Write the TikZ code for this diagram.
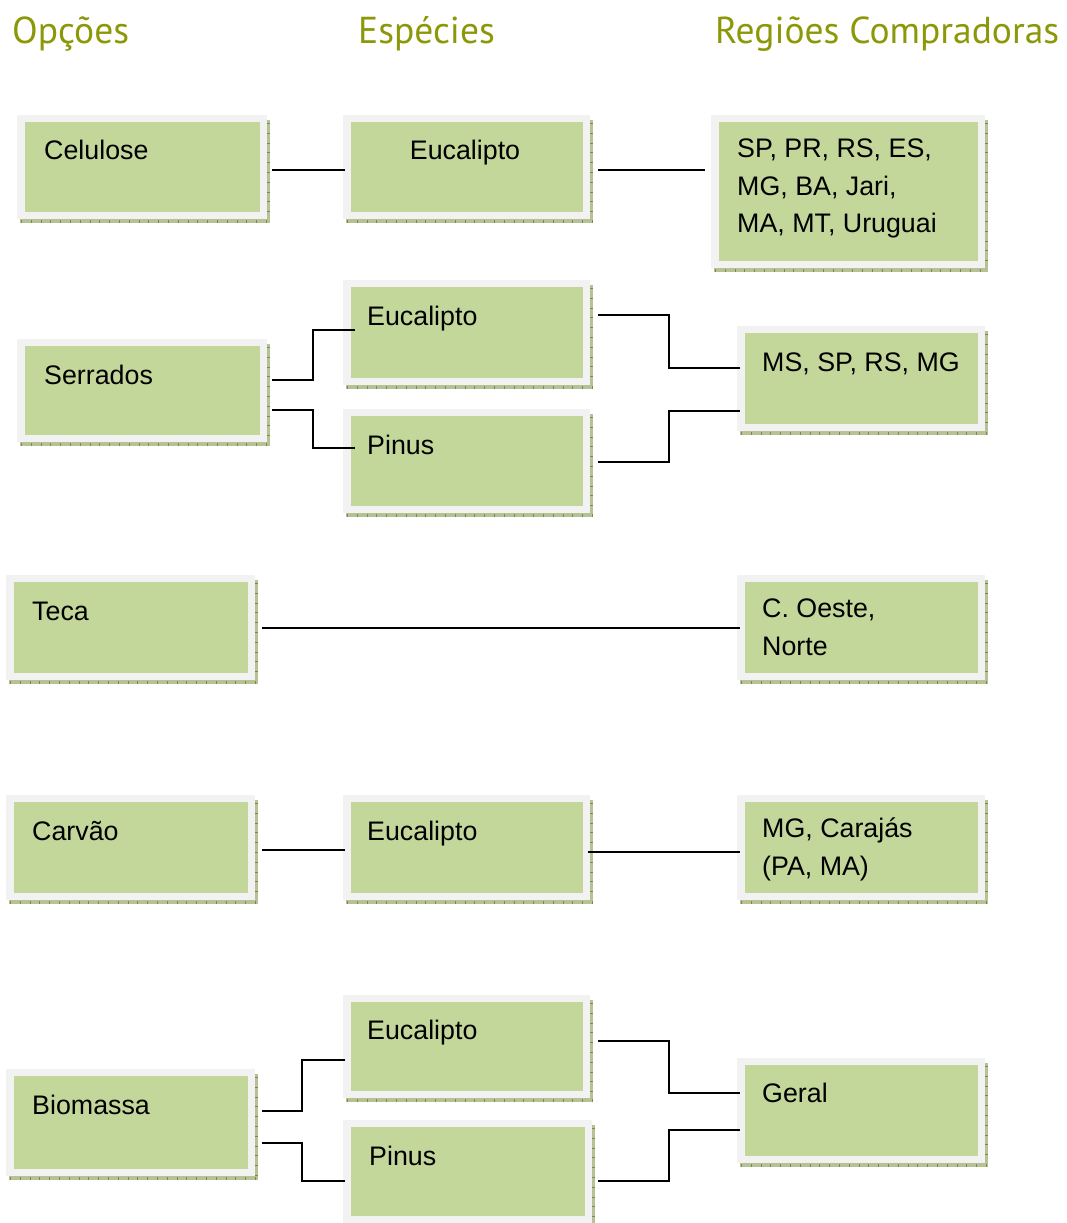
\documentclass[tikz,border=0pt]{standalone}
\usepackage{fontspec}
\setmainfont{Liberation Sans}
\newfontfamily\headfont{PT Sans}
\definecolor{graybg}{RGB}{242,242,242}
\definecolor{greenbx}{RGB}{196,215,155}
\definecolor{shadowc}{RGB}{182,194,150}
\definecolor{tickc}{RGB}{120,140,70}
\definecolor{headc}{RGB}{140,152,8}
\newcommand\mybox[5]{%
  \fill[shadowc] (#4,#3+5) rectangle (#4+3,#5+4);
  \fill[shadowc] (#2+3,#5) rectangle (#4+3,#5+4);
  \draw[tickc,line width=3pt,dash pattern=on 0.8pt off 9pt] (#2+4,#5+2) -- (#4+3,#5+2);
  \draw[tickc,line width=3pt,dash pattern=on 0.8pt off 9pt] (#4+1.5,#3+8) -- (#4+1.5,#5);
  \node[outerbox,minimum width={(#4-#2)*1pt},minimum height={(#5-#3)*1pt},anchor=north west] (#1) at (#2,#3) {};
  \fill[greenbx] ([shift={(7.5pt,-7pt)}]#1.north west) rectangle ([shift={(-7.5pt,7.5pt)}]#1.south east);
}
\begin{document}
\begin{tikzpicture}[x=1pt,y=-1pt,
  outerbox/.style={rectangle,fill=graybg,draw=none,inner sep=0pt,outer sep=0pt},
  txt/.style={anchor=base west,inner sep=0pt,font=\fontsize{26.8}{32}\selectfont,text=black},
  head/.style={anchor=base west,inner sep=0pt,font=\headfont\fontsize{37.5}{42}\selectfont,text=headc},
  conn/.style={draw=black,line width=1.7pt}]
\useasboundingbox (0,0) rectangle (1067,1223);
\fill[white] (0,0) rectangle (1067,1223);

\node[head] (h1) at (12,44) {Opções};
\node[head] (h2) at (358,44) {Espécies};
\node[head] (h3) at (715,44) {Regiões Compradoras};

\mybox{cel}{17}{115}{267}{219}
\mybox{eua}{343}{115}{590}{219}
\mybox{sp}{711}{115}{985}{268}
\mybox{ser}{17}{339}{267}{442}
\mybox{eub}{343}{280}{590}{385}
\mybox{pia}{343}{409}{590}{513}
\mybox{ms}{737}{326}{985}{431}
\mybox{teca}{6}{575}{255}{680}
\mybox{co}{737}{575}{985}{680}
\mybox{car}{6}{795}{255}{900}
\mybox{euc}{343}{795}{590}{900}
\mybox{mg}{737}{795}{985}{900}
\mybox{eud}{343}{995}{590}{1098}
\mybox{bio}{6}{1069}{255}{1176}
\mybox{pib}{343}{1120}{592}{1223}
\mybox{ger}{737}{1058}{985}{1163}

\node[txt] (tcel) at (44,159) {Celulose};
\node[txt,anchor=base] (teua) at (465,159) {Eucalipto};
\node[txt] (tsp1) at (737,157) {SP, PR, RS, ES,};
\node[txt] (tsp2) at (737,195) {MG, BA, Jari,};
\node[txt] (tsp3) at (737,232) {MA, MT, Uruguai};
\node[txt] (tser) at (44,384) {Serrados};
\node[txt] (teub) at (367,325) {Eucalipto};
\node[txt] (tpia) at (367,454) {Pinus};
\node[txt] (tms) at (762,371) {MS, SP, RS, MG};
\node[txt] (tteca) at (32,620) {Teca};
\node[txt] (tco1) at (762,617) {C. Oeste,};
\node[txt] (tco2) at (762,655) {Norte};
\node[txt] (tcar) at (32,840) {Carvão};
\node[txt] (teuc) at (367,840) {Eucalipto};
\node[txt] (tmg1) at (762,837) {MG, Carajás};
\node[txt] (tmg2) at (762,875) {(PA, MA)};
\node[txt] (teud) at (367,1039) {Eucalipto};
\node[txt] (tbio) at (32,1114) {Biomassa};
\node[txt] (tpib) at (369,1165) {Pinus};
\node[txt] (tger) at (762,1102) {Geral};

% connectors
\draw[conn] ([xshift=5pt,yshift=-3pt]cel.east) -- ([xshift=2pt,yshift=-3pt]eua.west);
\draw[conn] ([xshift=8pt,yshift=-3pt]eua.east) coordinate (ta) -- ([xshift=-6pt]ta -| sp.west);
\draw[conn] ([xshift=5pt,yshift=10.5pt]ser.east) -- ++(41,0) |- ([xshift=12pt,yshift=2.5pt]eub.west);
\draw[conn] ([xshift=5pt,yshift=-19.5pt]ser.east) -- ++(41,0) |- ([xshift=12pt,yshift=13pt]pia.west);
\draw[conn] ([xshift=8pt,yshift=17.5pt]eub.east) -- ++(71,0) |- ([xshift=3pt,yshift=10.5pt]ms.west);
\draw[conn] ([xshift=8pt,yshift=-1pt]pia.east) -- ++(71,0) |- ([xshift=3pt,yshift=-32.5pt]ms.west);
\draw[conn] ([xshift=7pt,yshift=-0.5pt]teca.east) -- ([xshift=3pt,yshift=-0.5pt]co.west);
\draw[conn] ([xshift=7pt,yshift=-2.5pt]car.east) -- ([xshift=2pt,yshift=-2.5pt]euc.west);
\draw[conn] ([xshift=-2pt,yshift=-4.5pt]euc.east) -- ([xshift=3pt,yshift=-4.5pt]mg.west);
\draw[conn] ([xshift=7pt,yshift=11.5pt]bio.east) -- ++(40,0) |- ([xshift=2pt,yshift=-13.5pt]eud.west);
\draw[conn] ([xshift=7pt,yshift=-20.5pt]bio.east) -- ++(40,0) |- ([xshift=2pt,yshift=-9.5pt]pib.west);
\draw[conn] ([xshift=8pt,yshift=5.5pt]eud.east) -- ++(71,0) |- ([xshift=3pt,yshift=17.5pt]ger.west);
\draw[conn] ([xshift=6pt,yshift=-9.5pt]pib.east) -- ++(71,0) |- ([xshift=3pt,yshift=-19.5pt]ger.west);
\end{tikzpicture}
\end{document}
